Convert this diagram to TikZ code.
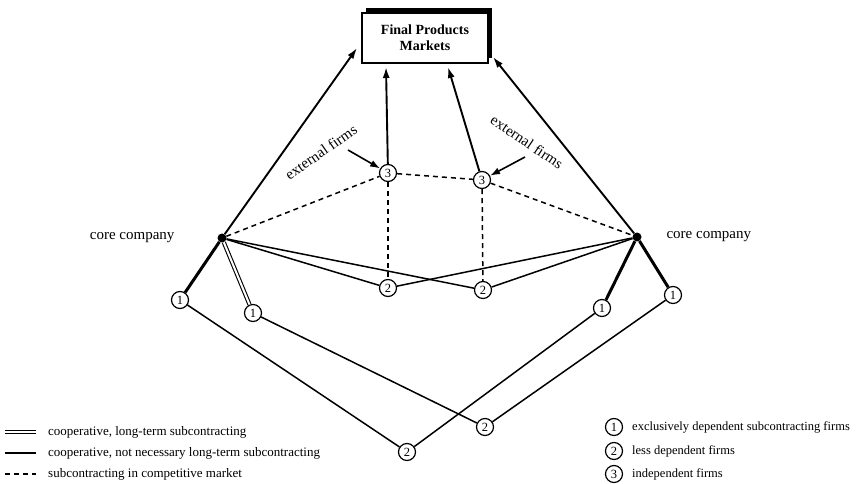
\documentclass[tikz,border=0pt]{standalone}
\usepackage{fontspec}
\setmainfont{Liberation Serif}
\usetikzlibrary{arrows.meta}
\begin{document}
\begin{tikzpicture}[x=1pt,y=-1pt,
  firm/.style={circle,draw,line width=1.2pt,fill=white,minimum size=17pt,inner sep=0pt,font=\fontsize{12.5}{12.5}\selectfont},
  corefirm/.style={circle,fill,minimum size=9pt,inner sep=0pt},
  thickline/.style={line width=3pt},
  solidline/.style={line width=1.5pt},
  dbl/.style={double,double distance=2pt,line width=1.1pt},
  comp/.style={line width=1.5pt,dash pattern=on 5pt off 4pt},
  arr/.style={line width=1.9pt,-{Latex[length=11pt,width=7pt]}},
  lbl/.style={font=\fontsize{15}{15}\selectfont},
  leg/.style={font=\fontsize{13}{13}\selectfont,anchor=west,inner sep=0pt}
]
\useasboundingbox (0,0) rectangle (863,484);

% final products box
\node[draw,line width=1.5pt,minimum width=126pt,minimum height=50pt,align=center,
      font=\bfseries\fontsize{14}{16}\selectfont] (box) at (425,38) {Final Products\\Markets};
\draw[line width=3.5pt] (366,10) -- (490,10) -- (490,58);

% nodes
\node[corefirm] (cL) at (222,238) {};
\node[corefirm] (cR) at (637,237) {};
\node[lbl,anchor=east] (cLt) at (178,238) {core company};
\node[lbl,anchor=west] (cRt) at (663,237) {core company};

\node[firm] (tL) at (388,173) {3};
\node[firm] (tR) at (482,180) {3};
\node[firm] (mL) at (388,288) {2};
\node[firm] (mR) at (483,290) {2};
\node[firm] (oL) at (180,300) {1};
\node[firm] (iL) at (253,313) {1};
\node[firm] (iR) at (602,308) {1};
\node[firm] (oR) at (673,295) {1};
\node[firm] (bL) at (407,452) {2};
\node[firm] (bR) at (485,427) {2};

% arrow targets
\coordinate (aL) at (357,48);
\coordinate (aML) at (386,67);
\coordinate (aMR) at (448,67);
\coordinate (aR) at (493,57);

% arrows to market
\draw[arr] (cL) -- (aL);
\draw[arr] (tL) -- (aML);
\draw[arr] (tR) -- (aMR);
\draw[arr] (cR) -- (aR);

% external firms
\node[lbl,rotate=35] (exL) at (321,152) {external firms};
\node[lbl,rotate=-34] (exR) at (527,142) {external firms};
\coordinate (eL) at (348,150);
\coordinate (eR) at (525,157);
\draw[line width=1.6pt,-{Latex[length=10pt,width=7pt]}] (eL) -- (tL);
\draw[line width=1.6pt,-{Latex[length=10pt,width=7pt]}] (eR) -- (tR);

% competitive market (dashed)
\draw[comp] (cL) -- (tL) -- (tR) -- (cR);
\draw[comp] (tL) -- (mL);
\draw[comp] (tR) -- (mR);

% core to level 1
\draw[thickline] (cL) -- (oL);
\draw[dbl] (cL) -- (iL);
\draw[thickline] (cR) -- (iR);
\draw[thickline] (cR) -- (oR);

% core to level 2 (middle)
\draw[solidline] (cL) -- (mL);
\draw[solidline] (cL) -- (mR);
\draw[solidline] (cR) -- (mR);
\draw[solidline] (cR) -- (mL);

% level 1 to bottom level 2
\draw[solidline] (oL) -- (bL);
\draw[solidline] (iL) -- (bR);
\draw[solidline] (iR) -- (bL);
\draw[solidline] (oR) -- (bR);

% left legend
\coordinate (l1a) at (5,432); \coordinate (l1b) at (36,432);
\coordinate (l2a) at (5,453); \coordinate (l2b) at (36,453);
\coordinate (l3a) at (5,474); \coordinate (l3b) at (36,474);
\draw[dbl] (l1a) -- (l1b);
\draw[solidline] (l2a) -- (l2b);
\draw[comp] (l3a) -- (l3b);
\node[leg] (t1) at (48,432) {cooperative, long-term subcontracting};
\node[leg] (t2) at (48,453) {cooperative, not necessary long-term subcontracting};
\node[leg] (t3) at (48,474) {subcontracting in competitive market};

% right legend
\node[firm] (k1) at (614,427) {1};
\node[firm] (k2) at (614,451) {2};
\node[firm] (k3) at (614,474) {3};
\node[leg,font=\fontsize{12.5}{12.5}\selectfont] (r1) at (632,427) {exclusively dependent subcontracting firms};
\node[leg,font=\fontsize{12.5}{12.5}\selectfont] (r2) at (632,451) {less dependent firms};
\node[leg,font=\fontsize{12.5}{12.5}\selectfont] (r3) at (632,474) {independent firms};
\end{tikzpicture}
\end{document}
